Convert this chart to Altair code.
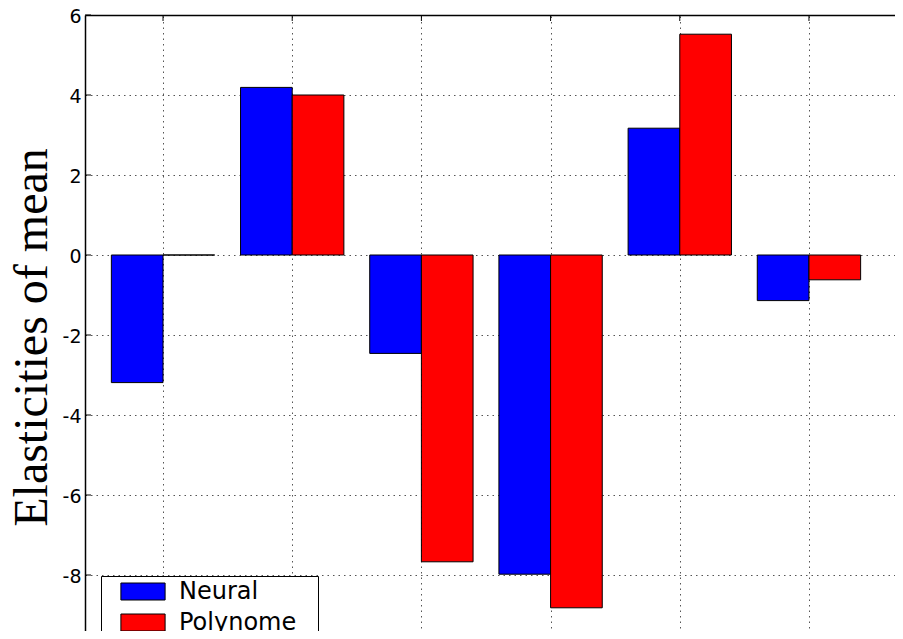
import altair as alt
import pandas as pd

groups = [1, 2, 3, 4, 5, 6]
neural = [-3.19, 4.19, -2.46, -7.98, 3.17, -1.14]
polynome = [0.0, 4.00, -7.67, -8.82, 5.52, -0.62]
series_names = ["Neural", "Polynome"]
series_colors = ["#0000ff", "#ff0000"]
y_ticks = [-8, -6, -4, -2, 0, 2, 4, 6]
bar_w = 0.4

rows = []
for g, n, p in zip(groups, neural, polynome):
    rows.append({"series": "Neural", "x0": g - bar_w, "x1": g, "value": n})
    rows.append({"series": "Polynome", "x0": g, "x1": g + bar_w, "value": p})
df = pd.DataFrame(rows)
gdf = pd.DataFrame({"g": groups})
ydf = pd.DataFrame({"y": y_ticks})

xscale = alt.Scale(domain=[0.396, 6.728], nice=False, zero=False)
yscale = alt.Scale(domain=[-9.6, 6], nice=False, zero=False)

bars = alt.Chart(df).mark_bar(stroke="black", strokeWidth=1, clip=True).encode(
    x=alt.X("x0:Q", scale=xscale,
            axis=alt.Axis(orient="top", values=groups, labels=False, ticks=False,
                          title=None, grid=True, gridDash=[1.5, 4], gridColor="#555",
                          gridWidth=1, domain=True, domainColor="black", domainWidth=1.5)),
    x2="x1:Q",
    y=alt.Y("value:Q", scale=yscale,
            axis=alt.Axis(orient="left", values=y_ticks, ticks=False, grid=True,
                          gridDash=[1.5, 4], gridColor="#555", gridWidth=1,
                          domain=True, domainColor="black", domainWidth=1.5,
                          labelFont="DejaVu Sans", labelFontSize=19, labelColor="black",
                          labelPadding=4, labelOffset=1.5, labelExpr="datum.value + ''",
                          title="Elasticities of mean", titleFont="Liberation Serif",
                          titleFontSize=48, titleFontWeight="normal", titleColor="black",
                          titleAngle=270, titleAlign="center", titleBaseline="alphabetic",
                          titleX=-39, titleY=322)),
    y2=alt.datum(0),
    color=alt.Color("series:N",
                    scale=alt.Scale(domain=series_names, range=series_colors),
                    legend=alt.Legend(title="x", titleOrient="right", titleOpacity=0,
                                      titleFontSize=10, titlePadding=12,
                                      orient="none", legendX=16, legendY=561,
                                      strokeColor="black", fillColor="white",
                                      padding=3.5, symbolType="M-2.6,-1H2.6V1H-2.6Z",
                                      symbolSize=289, symbolOffset=26.5,
                                      symbolStrokeColor="black",
                                      symbolStrokeWidth=1, symbolOpacity=1,
                                      labelFont="DejaVu Sans", labelFontSize=24,
                                      labelColor="black", labelOffset=24, rowPadding=7)),
)

top_ticks = alt.Chart(gdf).mark_rule(color="black", strokeWidth=1).encode(
    x=alt.X("g:Q", scale=xscale), y=alt.value(0), y2=alt.value(6)
)
left_ticks = alt.Chart(ydf).mark_rule(color="black", strokeWidth=1).encode(
    y=alt.Y("y:Q", scale=yscale), x=alt.value(0), x2=alt.value(6)
)

chart = alt.layer(bars, top_ticks, left_ticks).properties(
    width=818, height=624,
    autosize=alt.AutoSizeParams(type="none"),
    padding={"left": 77, "top": 7, "right": -8, "bottom": -8},
).configure_view(stroke=None).configure_legend(strokeWidth=1.5).configure(background="white")

chart.save("out.html", embed_options={"renderer": "svg", "actions": False})
